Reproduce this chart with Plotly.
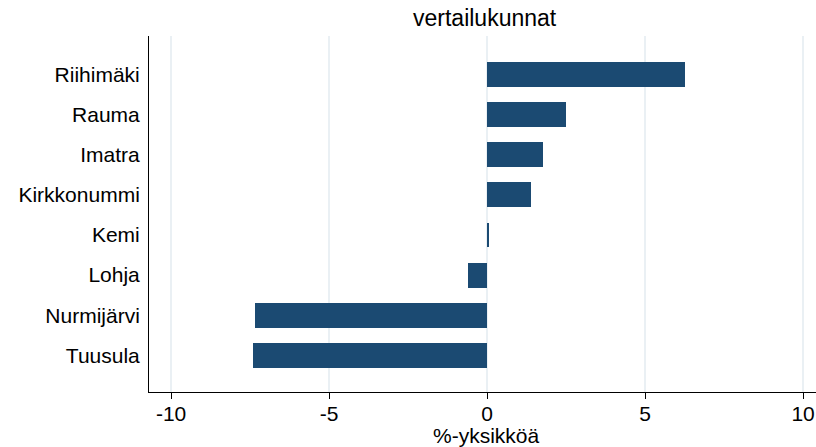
import plotly.graph_objects as go

# Categories bottom-to-top as plotted
TOWNS = ["Tuusula", "Nurmijärvi", "Lohja", "Kemi", "Kirkkonummi", "Imatra", "Rauma", "Riihimäki"]
CHANGE = [-7.40, -7.34, -0.60, 0.05, 1.39, 1.77, 2.50, 6.27]
X_TICKS = [-10, -5, 0, 5, 10]

BAR = "#1B4A72"
GRID = "#EAF0F4"
FONT = "Liberation Sans, Arial, sans-serif"

fig = go.Figure(go.Bar(
    x=CHANGE,
    y=list(range(len(TOWNS))),
    orientation="h",
    width=0.62,
    marker_color=BAR,
    marker_line=dict(width=0),
))

fig.update_layout(
    width=816,
    height=447,
    paper_bgcolor="white",
    plot_bgcolor="white",
    font=dict(family=FONT, color="black", size=21),
    margin=dict(l=149, r=0, t=36, b=55),
    showlegend=False,
    bargap=0,
)

# title and axis title as annotations so they don't push the margins
fig.add_annotation(
    text="vertailukunnat", xref="paper", yref="paper",
    x=(485.5 - 149) / 667, y=1 + 18 / 356,
    xanchor="center", yanchor="middle", showarrow=False,
    font=dict(size=23, color="black"),
)
fig.add_annotation(
    text="%-yksikköä", xref="paper", yref="paper",
    x=(486.5 - 149) / 667, y=-(435 - 392) / 356,
    xanchor="center", yanchor="middle", showarrow=False,
    borderpad=0,
    font=dict(size=21, color="black"),
)

fig.update_xaxes(
    range=[-10.70, 10.41],
    tickvals=X_TICKS,
    ticktext=[str(v) for v in X_TICKS],
    showgrid=True, gridcolor=GRID, gridwidth=1.5,
    zeroline=False,
    showline=True, linecolor="black", linewidth=1,
    ticks="outside", ticklen=6, tickcolor="black",
    ticklabelstandoff=-3,
    automargin=False,
)
fig.update_yaxes(
    range=[-0.909, 7.953],
    tickvals=list(range(len(TOWNS))),
    ticktext=TOWNS,
    showgrid=False,
    zeroline=False,
    showline=True, linecolor="black", linewidth=1,
    ticks="outside", ticklen=4, tickcolor="rgba(0,0,0,0)",
    automargin=False,
)

# drop the browser's default body margin so the figure sits at 0,0
fig.write_html(
    "out.html",
    config={"displayModeBar": False},
    post_script="document.body.style.margin='0';",
)
